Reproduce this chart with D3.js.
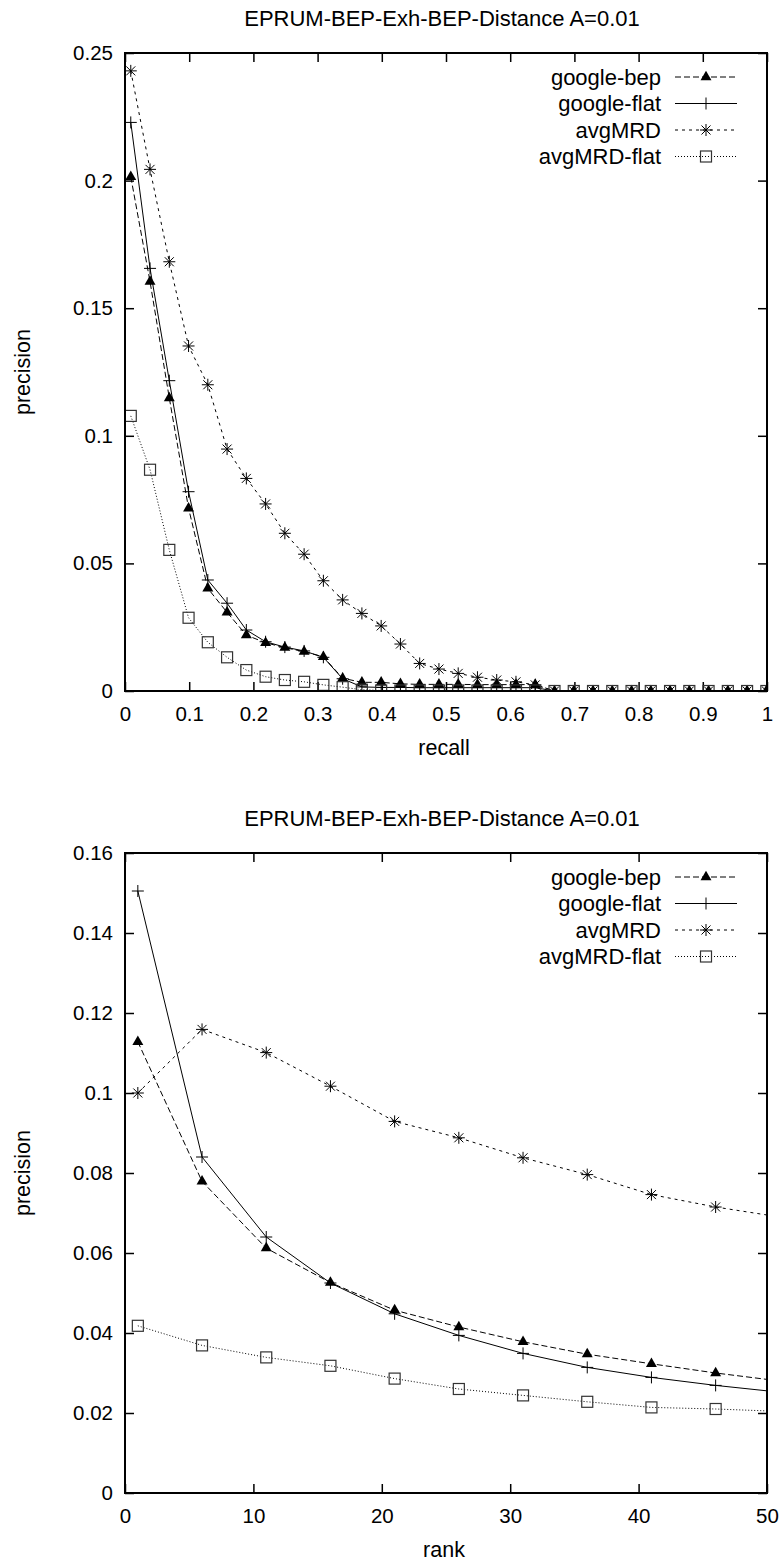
<!DOCTYPE html>
<html>
<head>
<meta charset="utf-8">
<script src="https://cdn.jsdelivr.net/npm/d3@7"></script>
<style>
    body { margin: 0; background: #fff; }
    svg text { font-family: "Liberation Sans", Arial, Helvetica, sans-serif; fill: #000; }
</style>
</head>
<body>
<svg id="chart" width="782" height="1561"></svg>
<script>
// ---- data ----
const seriesNames = ["google-bep", "google-flat", "avgMRD", "avgMRD-flat"];
const chartTitle = "EPRUM-BEP-Exh-BEP-Distance A=0.01";

// top panel: precision at recall levels
const recallLevels = [0.009, 0.039, 0.069, 0.099, 0.129, 0.159, 0.189, 0.219, 0.249, 0.279,
    0.309, 0.339, 0.369, 0.399, 0.429, 0.459, 0.489, 0.519, 0.549, 0.579, 0.609, 0.639,
    0.669, 0.699, 0.729, 0.759, 0.789, 0.819, 0.849, 0.879, 0.909, 0.939, 0.969, 0.999];
const googleBepRecall = [0.2015, 0.1604, 0.1148, 0.0716, 0.0402, 0.0308, 0.0219, 0.0189, 0.0170, 0.0154,
    0.0134, 0.0050, 0.0034, 0.0034, 0.0028, 0.0026, 0.0026, 0.0026, 0.0025, 0.0025, 0.0025, 0.0025,
    0, 0, 0, 0, 0, 0, 0, 0, 0, 0, 0, 0];
const googleFlatRecall = [0.2228, 0.1656, 0.1216, 0.0781, 0.0435, 0.0344, 0.0239, 0.0193, 0.0172, 0.0157,
    0.0132, 0.0048, 0.0016, 0.0014, 0.0014, 0.0013, 0.0013, 0.0013, 0.0013, 0.0013, 0.0013, 0.0013,
    0, 0, 0, 0, 0, 0, 0, 0, 0, 0, 0, 0];
const avgMRDRecall = [0.2430, 0.2044, 0.1682, 0.1352, 0.1200, 0.0948, 0.0833, 0.0733, 0.0618, 0.0536,
    0.0432, 0.0357, 0.0304, 0.0255, 0.0184, 0.0108, 0.0086, 0.0069, 0.0054, 0.0043, 0.0036, 0.0024,
    0, 0, 0, 0, 0, 0, 0, 0, 0, 0, 0, 0];
const avgMRDFlatRecall = [0.1078, 0.0867, 0.0553, 0.0287, 0.0191, 0.0132, 0.0082, 0.0056, 0.0043, 0.0036,
    0.0024, 0.0015, 0.0005, 0.0002, 0.0002, 0.0002, 0.0002, 0.0002, 0.0002, 0.0002, 0.0002, 0.0002,
    0, 0, 0, 0, 0, 0, 0, 0, 0, 0, 0, 0];

// bottom panel: precision at rank
const rankLevels = [1, 6, 11, 16, 21, 26, 31, 36, 41, 46, 51];
const googleBepRank = [0.1128, 0.0779, 0.0612, 0.0526, 0.0457, 0.0415, 0.0378, 0.0347, 0.0323, 0.0300, 0.0280];
const googleFlatRank = [0.1505, 0.0840, 0.0640, 0.0525, 0.0448, 0.0394, 0.0349, 0.0314, 0.0289, 0.0269, 0.0252];
const avgMRDRank = [0.1000, 0.1159, 0.1101, 0.1017, 0.0929, 0.0888, 0.0838, 0.0796, 0.0746, 0.0715, 0.0690];
const avgMRDFlatRank = [0.0418, 0.0369, 0.0339, 0.0318, 0.0286, 0.0260, 0.0244, 0.0228, 0.0214, 0.0210, 0.0204];

// ticks
const recallTicks = [0, 0.1, 0.2, 0.3, 0.4, 0.5, 0.6, 0.7, 0.8, 0.9, 1];
const precisionTicksTop = [0, 0.05, 0.1, 0.15, 0.2, 0.25];
const rankTicks = [0, 10, 20, 30, 40, 50];
const precisionTicksBottom = [0, 0.02, 0.04, 0.06, 0.08, 0.1, 0.12, 0.14, 0.16];

// ---- styles per series ----
const lineStyles = {
    "google-bep": { dash: "6,3", marker: "triangle" },
    "google-flat": { dash: null, marker: "plus" },
    "avgMRD": { dash: "3,4", marker: "star" },
    "avgMRD-flat": { dash: "1,2", marker: "square" }
};

const svg = d3.select("#chart");
const fmt = d3.format("~g");

function drawMarker(sel, type) {
    if (type === "triangle") {
        sel.append("path")
            .attr("d", d3.symbol(d3.symbolTriangle, 52)())
            .attr("fill", "#000");
    } else if (type === "plus") {
        sel.append("path")
            .attr("d", "M-6,0H6M0,-6V6")
            .attr("stroke", "#000").attr("stroke-width", 1).attr("fill", "none");
    } else if (type === "star") {
        sel.append("path")
            .attr("d", "M-6,0H6M0,-6V6M-4.5,-4.5L4.5,4.5M-4.5,4.5L4.5,-4.5")
            .attr("stroke", "#000").attr("stroke-width", 1).attr("fill", "none");
    } else if (type === "square") {
        sel.append("rect")
            .attr("x", -5.5).attr("y", -5.5).attr("width", 11).attr("height", 11)
            .attr("stroke", "#333").attr("stroke-width", 1.2).attr("fill", "none");
    }
}

function drawPanel(cfg, idx) {
    const left = 125, right = 767;
    const x = d3.scaleLinear().domain(cfg.xDomain).range([left, right]);
    const y = d3.scaleLinear().domain(cfg.yDomain).range([cfg.bottom, cfg.top]);

    const g = svg.append("g");
    const clipId = "clip" + idx;
    g.append("clipPath").attr("id", clipId)
        .append("rect")
        .attr("x", left).attr("y", cfg.top)
        .attr("width", right - left).attr("height", cfg.bottom - cfg.top);

    // title
    g.append("text")
        .attr("x", 442).attr("y", cfg.top - 35)
        .attr("dy", "0.35em")
        .attr("text-anchor", "middle")
        .style("font-size", "22px")
        .text(chartTitle);

    // axes, gnuplot style: ticks inward on all four sides
    const xAxis = g.append("g")
        .attr("transform", `translate(0,${cfg.bottom})`)
        .call(d3.axisBottom(x).tickValues(cfg.xTicks).tickFormat(fmt)
            .tickSizeInner(-9).tickSizeOuter(0).tickPadding(15));
    const xTop = g.append("g")
        .attr("transform", `translate(0,${cfg.top})`)
        .call(d3.axisTop(x).tickValues(cfg.xTicks).tickFormat("")
            .tickSizeInner(-9).tickSizeOuter(0));
    const yAxis = g.append("g")
        .attr("transform", `translate(${left},0)`)
        .call(d3.axisLeft(y).tickValues(cfg.yTicks).tickFormat(fmt)
            .tickSizeInner(-9).tickSizeOuter(0).tickPadding(12));
    const yRight = g.append("g")
        .attr("transform", `translate(${right},0)`)
        .call(d3.axisRight(y).tickValues(cfg.yTicks).tickFormat("")
            .tickSizeInner(-9).tickSizeOuter(0));

    [xAxis, xTop, yAxis, yRight].forEach(a => {
        a.select(".domain").remove();
        a.selectAll(".tick line").attr("stroke", "#000").attr("stroke-width", 1.5);
        a.selectAll(".tick text")
            .style("font-family", "'Liberation Sans', Arial, sans-serif")
            .style("font-size", "20.5px");
    });

    // axis titles
    g.append("text")
        .attr("x", (left + right) / 2 - 2).attr("y", cfg.bottom + 56)
        .attr("dy", "0.35em").attr("text-anchor", "middle")
        .style("font-size", "21.5px")
        .text(cfg.xLabel);
    g.append("text")
        .attr("transform", `translate(22,${(cfg.top + cfg.bottom) / 2}) rotate(-90)`)
        .attr("dy", "0.35em").attr("text-anchor", "middle")
        .style("font-size", "21.5px")
        .text("precision");

    // series
    const plot = g.append("g").attr("clip-path", `url(#${clipId})`);
    const line = d3.line().x(d => x(d[0])).y(d => y(d[1]));

    cfg.series.forEach(s => {
        const st = lineStyles[s.name];
        const pts = cfg.xValues.map((v, i) => [v, s.values[i]]);
        plot.append("path")
            .datum(pts)
            .attr("d", line)
            .attr("fill", "none")
            .attr("stroke", "#000")
            .attr("stroke-width", 1)
            .attr("stroke-dasharray", st.dash);
        plot.selectAll(null)
            .data(pts.filter(p => p[0] <= cfg.xDomain[1]))
            .enter()
            .append("g")
            .attr("transform", d => `translate(${x(d[0])},${y(d[1])})`)
            .each(function () { drawMarker(d3.select(this), st.marker); });
    });

    // frame
    g.append("rect")
        .attr("x", left).attr("y", cfg.top)
        .attr("width", right - left).attr("height", cfg.bottom - cfg.top)
        .attr("fill", "none").attr("stroke", "#000").attr("stroke-width", 2);

    // legend
    const legend = g.append("g");
    cfg.series.forEach((s, i) => {
        const st = lineStyles[s.name];
        const ly = cfg.top + 24 + i * 26.5;
        legend.append("rect")
            .attr("x", 530).attr("y", ly - 12).attr("width", 220).attr("height", 24)
            .attr("fill", "#fff");
        legend.append("text")
            .attr("x", 661).attr("y", ly).attr("dy", "0.35em")
            .attr("text-anchor", "end")
            .style("font-size", "22px")
            .text(s.name);
        legend.append("line")
            .attr("x1", 675).attr("x2", 737).attr("y1", ly).attr("y2", ly)
            .attr("stroke", "#000").attr("stroke-width", 1)
            .attr("stroke-dasharray", st.dash);
        const m = legend.append("g").attr("transform", `translate(706,${ly})`);
        drawMarker(m, st.marker);
    });
}

drawPanel({
    top: 53, bottom: 691,
    xDomain: [0, 1], yDomain: [0, 0.25],
    xTicks: recallTicks, yTicks: precisionTicksTop,
    xValues: recallLevels, xLabel: "recall",
    series: [
        { name: seriesNames[0], values: googleBepRecall },
        { name: seriesNames[1], values: googleFlatRecall },
        { name: seriesNames[2], values: avgMRDRecall },
        { name: seriesNames[3], values: avgMRDFlatRecall }
    ]
}, 0);

drawPanel({
    top: 853, bottom: 1493,
    xDomain: [0, 50], yDomain: [0, 0.16],
    xTicks: rankTicks, yTicks: precisionTicksBottom,
    xValues: rankLevels, xLabel: "rank",
    series: [
        { name: seriesNames[0], values: googleBepRank },
        { name: seriesNames[1], values: googleFlatRank },
        { name: seriesNames[2], values: avgMRDRank },
        { name: seriesNames[3], values: avgMRDFlatRank }
    ]
}, 1);
</script>
</body>
</html>
